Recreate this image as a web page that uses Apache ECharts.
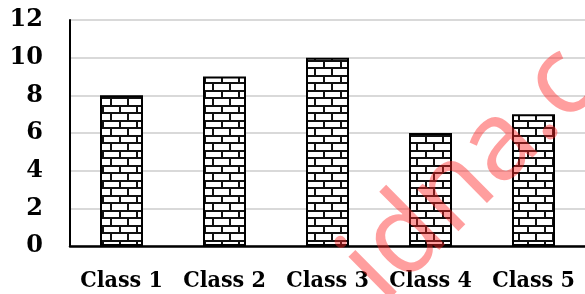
<!DOCTYPE html>
<html>
<head>
<meta charset="utf-8">
<script src="https://cdn.jsdelivr.net/npm/echarts@6/dist/echarts.min.js"></script>
<style>
  html, body { margin: 0; padding: 0; background: #fff; }
  #chart { width: 585px; height: 294px; }
</style>
</head>
<body>
<div id="chart"></div>
<script>
  var categories = ['Class 1', 'Class 2', 'Class 3', 'Class 4', 'Class 5'];
  var values = [8, 9, 10, 6, 7];
  var yTicks = [0, 2, 4, 6, 8, 10, 12];

  // brick pattern like the excel fill
  function brick() {
    var c = document.createElement('canvas');
    c.width = 17;
    c.height = 15;
    var ctx = c.getContext('2d');
    ctx.fillStyle = '#fff';
    ctx.fillRect(0, 0, 17, 15);
    ctx.fillStyle = '#111';
    ctx.fillRect(0, 0, 17, 2);
    ctx.fillRect(0, 7, 17, 2);
    ctx.fillRect(0, 0, 2, 8);
    ctx.fillRect(8, 7, 2, 8);
    return c;
  }

  var font = '"DejaVu Serif", "Liberation Serif", serif';
  var chart = echarts.init(document.getElementById('chart'));
  chart.setOption({
    animation: false,
    grid: {left: 70, top: 20, bottom: 48, width: 526},
    xAxis: {
      type: 'category',
      data: categories,
      axisLine: {lineStyle: {color: '#000', width: 2.5}},
      axisTick: {show: false},
      axisLabel: {
        interval: 0,
        hideOverlap: false,
        color: '#000', fontFamily: '"DejaVu Serif Condensed", "DejaVu Serif", serif',
        fontWeight: 'bold', fontSize: 23, margin: 24
      }
    },
    yAxis: {
      type: 'value',
      min: yTicks[0],
      max: yTicks[yTicks.length - 1],
      interval: 2,
      axisLine: {show: true, lineStyle: {color: '#000', width: 2}},
      axisTick: {show: false},
      axisLabel: {
        color: '#000', fontFamily: font, fontWeight: 'bold', fontSize: 24, margin: 27
      },
      splitLine: {lineStyle: {color: '#d9d9d9', width: 2}}
    },
    series: [{
      type: 'bar',
      data: values,
      barWidth: 43,
      itemStyle: {
        color: {image: brick(), repeat: 'repeat'},
        borderColor: '#000',
        borderWidth: 2
      }
    }],
    graphic: [{
      type: 'text',
      x: 400,
      y: 322,
      rotation: 0.78,
      z: 100,
      style: {
        text: 'idna.c',
        fontFamily: '"Noto Sans", sans-serif',
        fontSize: 110,
        fill: 'rgba(255, 40, 40, 0.45)',
        textAlign: 'left',
        textVerticalAlign: 'bottom'
      }
    }]
  });
</script>
</body>
</html>
